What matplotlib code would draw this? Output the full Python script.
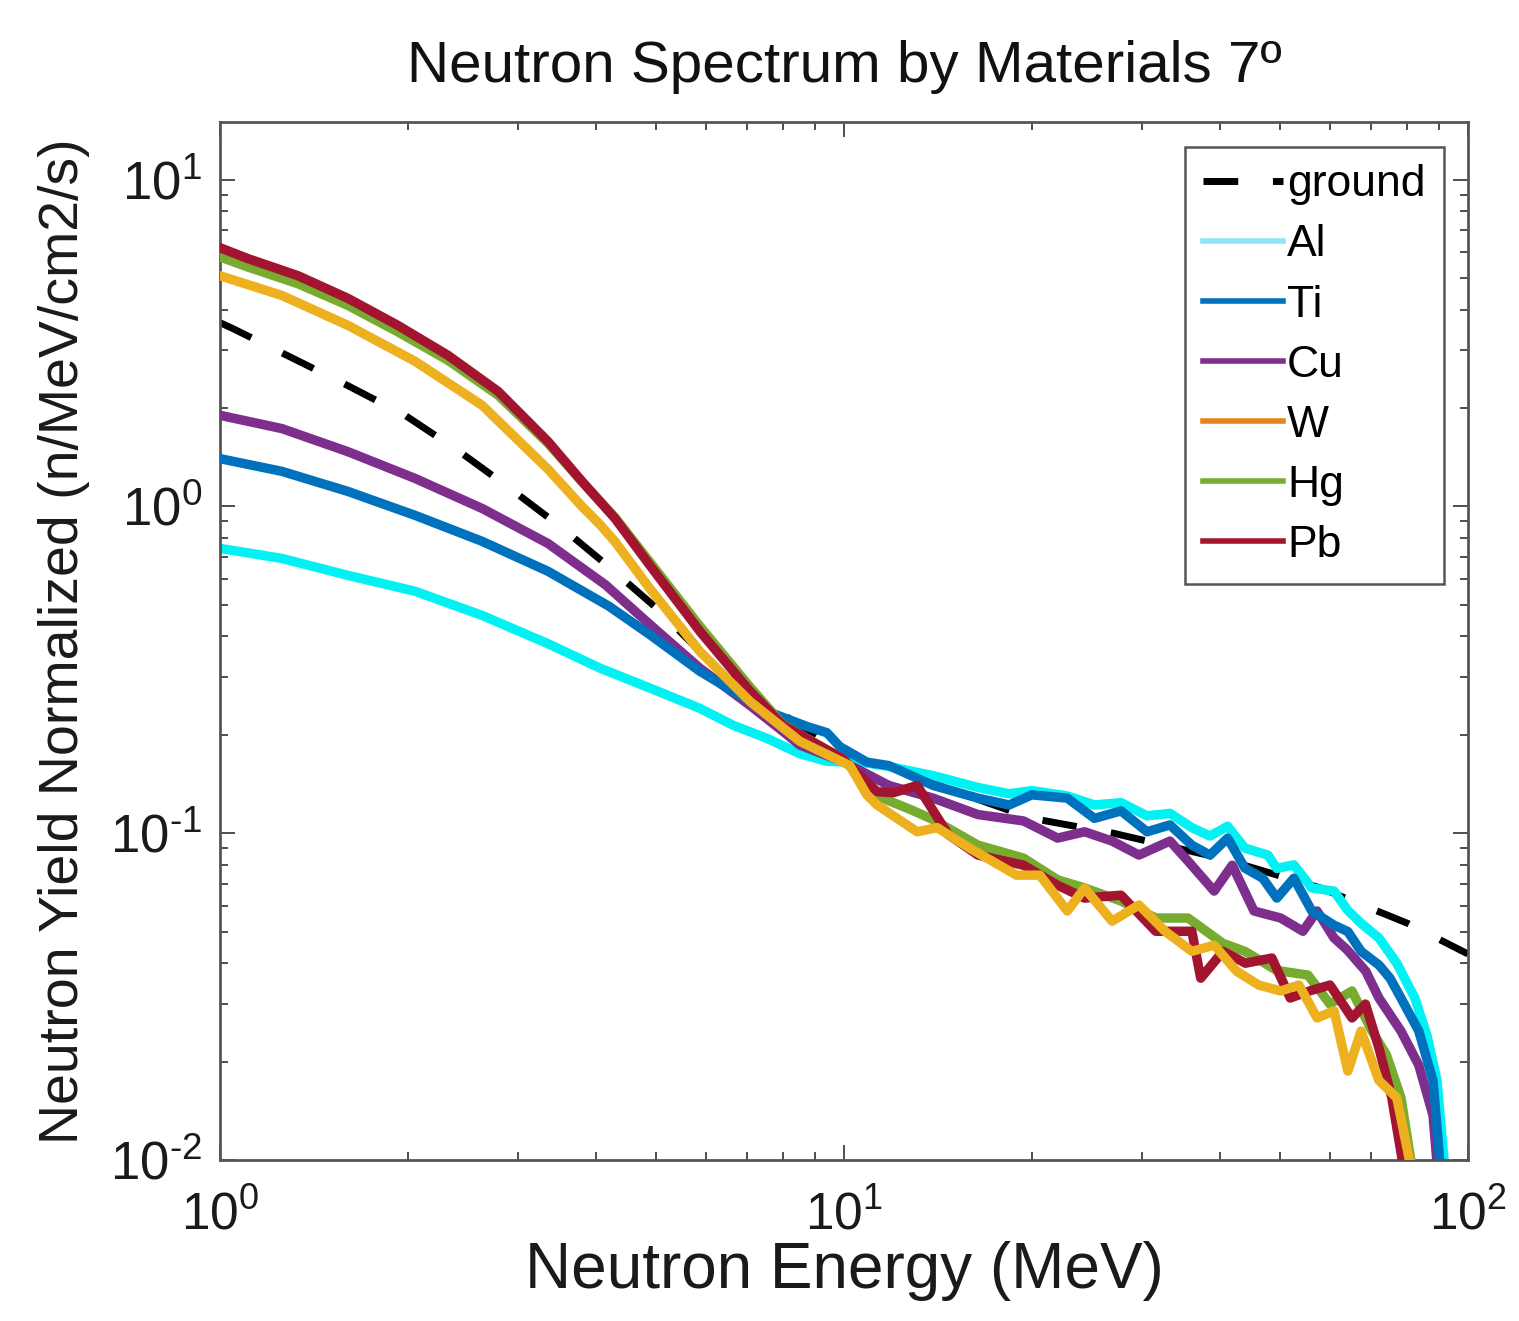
import matplotlib
matplotlib.use('Agg')
import matplotlib.pyplot as plt
from matplotlib.lines import Line2D
from matplotlib.ticker import LogLocator, NullFormatter

plt.rcParams['font.family'] = ['Liberation Sans', 'DejaVu Sans']
plt.rcParams['mathtext.default'] = 'regular'

# Values (energy in MeV, yield normalized)
E_ground = [1.0, 1.049, 1.294, 1.604, 1.98, 2.41, 2.89, 3.51, 4.19, 5.01, 5.875, 8.28, 10.22, 12.8, 20.0, 27.0,
            40.0, 58.0, 80.0, 100.0]
Y_ground = [3.65, 3.50, 2.87, 2.34, 1.90, 1.48, 1.15, 0.868, 0.656, 0.488, 0.360, 0.220, 0.170, 0.150, 0.111,
            0.100, 0.084, 0.068, 0.053, 0.0427]

E_al = [1.0, 1.257, 1.604, 2.054, 2.63, 3.355, 4.064, 4.887, 5.875, 6.64, 7.53, 8.5, 9.39, 10.88, 11.8, 13.9,
        16.4, 18.4, 20.0, 22.8, 25.2, 27.8, 30.6, 33.3, 36.1, 38.6, 41.2, 43.9, 47.8, 49.4, 52.6, 56.2, 61.0,
        64.2, 67.4, 72.0, 76.9, 82.2, 86.0, 89.2, 92.5]
Y_al = [0.744, 0.693, 0.615, 0.550, 0.464, 0.38, 0.320, 0.278, 0.241, 0.214, 0.195, 0.175, 0.166, 0.164, 0.160,
        0.150, 0.138, 0.132, 0.135, 0.130, 0.122, 0.124, 0.113, 0.115, 0.104, 0.098, 0.105, 0.090, 0.0857, 0.078,
        0.080, 0.068, 0.0665, 0.058, 0.053, 0.0478, 0.040, 0.0313, 0.024, 0.0175, 0.008]

E_ti = [1.0, 1.257, 1.604, 2.054, 2.63, 3.355, 4.2, 4.887, 5.875, 6.64, 7.53, 8.73, 9.39, 9.85, 10.88, 11.8,
        13.9, 16.4, 18.4, 20.0, 22.8, 25.2, 27.8, 30.6, 33.3, 36.1, 38.6, 41.2, 43.9, 46.9, 49.4, 52.6, 56.2,
        61.0, 64.2, 67.4, 72.0, 75.0, 78.1, 83.4, 87.9, 91.0]
Y_ti = [1.40, 1.28, 1.111, 0.939, 0.782, 0.633, 0.495, 0.405, 0.313, 0.272, 0.236, 0.212, 0.203, 0.184, 0.165,
        0.161, 0.140, 0.128, 0.122, 0.131, 0.128, 0.111, 0.117, 0.101, 0.106, 0.0919, 0.0857, 0.0966, 0.0782,
        0.0728, 0.0633, 0.0728, 0.0578, 0.0523, 0.050, 0.0435, 0.0395, 0.036, 0.0313, 0.0248, 0.0175, 0.008]

E_cu = [1.0, 1.257, 1.604, 2.054, 2.63, 3.355, 4.15, 4.887, 5.875, 7.07, 7.98, 8.5, 10.0, 11.8, 13.9, 16.4,
        19.4, 22.0, 24.3, 26.9, 29.7, 33.3, 35.6, 39.2, 41.9, 45.4, 50.1, 54.4, 57.3, 61.0, 64.0, 68.6, 72.0,
        78.1, 83.4, 87.9, 90.0]
Y_cu = [1.90, 1.73, 1.47, 1.218, 0.986, 0.77, 0.575, 0.435, 0.320, 0.246, 0.205, 0.186, 0.165, 0.140, 0.128,
        0.114, 0.109, 0.0966, 0.101, 0.0946, 0.0857, 0.0946, 0.0821, 0.0665, 0.0798, 0.0578, 0.0550, 0.0501,
        0.0578, 0.0478, 0.044, 0.0378, 0.0313, 0.0248, 0.0195, 0.0137, 0.008]

E_w = [1.0, 1.257, 1.604, 2.054, 2.63, 3.355, 3.803, 4.064, 4.296, 4.887, 5.875, 7.07, 8.5, 10.22, 10.88, 11.3,
       13.1, 14.1, 15.9, 18.9, 20.6, 22.8, 24.3, 26.9, 29.7, 32.7, 36.1, 39.2, 42.6, 46.2, 50.1, 53.6, 57.3,
       61.0, 64.2, 67.4, 72.0, 76.9, 82.5]
Y_w = [5.08, 4.42, 3.58, 2.78, 2.04, 1.30, 1.0, 0.88, 0.78, 0.560, 0.360, 0.253, 0.191, 0.161, 0.131, 0.122,
       0.101, 0.104, 0.090, 0.0744, 0.0744, 0.0578, 0.0679, 0.0538, 0.0603, 0.0501, 0.0435, 0.0454, 0.0378,
       0.0343, 0.0329, 0.0343, 0.0272, 0.0286, 0.0187, 0.0248, 0.0175, 0.0155, 0.008]

E_hg = [1.0, 1.109, 1.334, 1.604, 1.928, 2.319, 2.79, 3.355, 3.803, 4.296, 4.887, 5.875, 7.07, 7.98, 10.0, 11.3,
        12.8, 13.9, 16.4, 19.4, 22.0, 24.3, 27.8, 31.6, 35.6, 40.5, 43.9, 49.4, 55.4, 60.1, 65.2, 70.0, 74.0,
        78.1, 82.5]
Y_hg = [5.8, 5.4, 4.8, 4.12, 3.42, 2.80, 2.19, 1.56, 1.19, 0.925, 0.675, 0.43, 0.28, 0.215, 0.168, 0.13, 0.118,
        0.110, 0.0919, 0.0839, 0.072, 0.068, 0.062, 0.055, 0.0550, 0.046, 0.0435, 0.038, 0.0368, 0.030, 0.0329,
        0.025, 0.021, 0.0155, 0.008]

E_pb = [1.0, 1.109, 1.334, 1.604, 1.928, 2.319, 2.79, 3.355, 3.803, 4.296, 4.887, 5.875, 7.07, 7.98, 9.95, 11.3,
        12.0, 13.1, 14.7, 16.4, 19.4, 22.0, 24.3, 27.8, 31.6, 36.1, 37.3, 40.5, 44.0, 48.5, 51.9, 56.0, 60.1,
        65.2, 68.5, 72.0, 75.5, 80.0]
Y_pb = [6.19, 5.73, 5.08, 4.33, 3.58, 2.90, 2.25, 1.58, 1.193, 0.919, 0.660, 0.415, 0.272, 0.214, 0.169, 0.134,
        0.133, 0.140, 0.099, 0.0857, 0.0798, 0.0693, 0.0633, 0.0646, 0.0501, 0.0501, 0.0360, 0.0435, 0.040,
        0.0415, 0.0313, 0.033, 0.0343, 0.0272, 0.030, 0.0220, 0.0155, 0.008]

labels = ['ground', 'Al', 'Ti', 'Cu', 'W', 'Hg', 'Pb']
line_colors = ['black', '#00F2F2', '#0072BD', '#7E2F8E', '#EDB120', '#77AC30', '#A2142F']
legend_colors = ['black', '#8EE4F8', '#0072BD', '#7E2F8E', '#E5851B', '#77AC30', '#A2142F']

fig = plt.figure(figsize=(15.19, 13.21), dpi=100)
ax = fig.add_axes([0.1448, 0.1219, 0.8216, 0.7857])

lw = 6.8
ax.plot(E_ground, Y_ground, color='black', lw=5, dashes=(5, 5), zorder=1)
ax.plot(E_al, Y_al, color=line_colors[1], lw=lw, zorder=2)
ax.plot(E_cu, Y_cu, color=line_colors[3], lw=lw, zorder=3)
ax.plot(E_ti, Y_ti, color=line_colors[2], lw=lw, zorder=4)
ax.plot(E_hg, Y_hg, color=line_colors[5], lw=lw, zorder=5)
ax.plot(E_pb, Y_pb, color=line_colors[6], lw=lw, zorder=6)
ax.plot(E_w, Y_w, color=line_colors[4], lw=lw, zorder=7)

ax.set_xscale('log')
ax.set_yscale('log')
ax.set_xlim(1, 100)
ax.set_ylim(0.01, 15)

ax.xaxis.set_minor_locator(LogLocator(base=10, subs=range(2, 10)))
ax.yaxis.set_minor_locator(LogLocator(base=10, subs=range(2, 10)))
ax.xaxis.set_minor_formatter(NullFormatter())
ax.yaxis.set_minor_formatter(NullFormatter())
ax.set_yticks([0.01, 0.1, 1, 10])
ax.set_xticks([1, 10, 100])
ax.set_yticklabels(['$10^{\u2010 2}$', '$10^{\u2010 1}$', '$10^{0}$', '$10^{1}$'])
ax.set_xticklabels(['$10^{0}$', '$10^{1}$', '$10^{2}$'])

ax.tick_params(which='both', direction='in', top=True, right=True, colors='#404040', width=1.3)
ax.tick_params(which='major', length=11)
ax.tick_params(which='minor', length=6)
ax.tick_params(axis='x', which='major', labelsize=37, pad=22, labelcolor='#1a1a1a')
ax.tick_params(axis='y', which='major', labelsize=38, pad=13, labelcolor='#1a1a1a')
for sp in ax.spines.values():
    sp.set_color('#555555')
    sp.set_linewidth(2)

ax.set_title('Neutron Spectrum by Materials 7º', fontsize=42, pad=29, color='#111111')
ax.set_xlabel('Neutron Energy (MeV)', fontsize=46, labelpad=0, color='#1a1a1a')
ax.set_ylabel('Neutron Yield Normalized (n/MeV/cm2/s)', fontsize=40, labelpad=14, color='#1a1a1a')

handles = []
for i, lab in enumerate(labels):
    if lab == 'ground':
        handles.append(Line2D([], [], color=legend_colors[i], lw=5, dashes=(5, 5)))
    else:
        handles.append(Line2D([], [], color=legend_colors[i], lw=4))
leg = ax.legend(handles, labels, loc='upper right', fontsize=32, handlelength=1.8, handletextpad=0.1,
                labelspacing=0.43, borderpad=0.4, borderaxespad=0.55, fancybox=False, framealpha=1)
leg.get_frame().set_edgecolor('#555555')
leg.get_frame().set_linewidth(1.8)

fig.savefig('out.png', dpi=100, facecolor='white')
